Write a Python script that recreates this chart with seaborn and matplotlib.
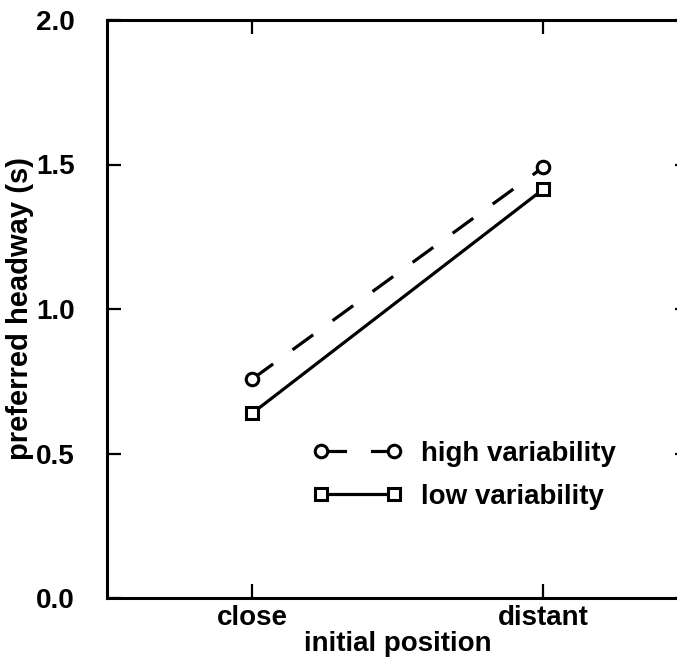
import matplotlib
matplotlib.use("Agg")
import matplotlib.pyplot as plt
import seaborn as sns
import pandas as pd

positions = ["close", "distant"]
high_variability = [0.758, 1.491]
low_variability = [0.640, 1.415]
series_labels = ["high variability", "low variability"]
y_ticks = [0.0, 0.5, 1.0, 1.5, 2.0]
y_tick_labels = ["0.0", "0.5", "1.0", "1.5", "2.0"]

sns.set_style("ticks")
plt.rcParams['font.family'] = ['Liberation Sans', 'DejaVu Sans']
plt.rcParams['font.weight'] = 'bold'
plt.rcParams['axes.labelweight'] = 'bold'
plt.rcParams['text.color'] = 'black'
plt.rcParams['axes.labelcolor'] = 'black'
plt.rcParams['axes.edgecolor'] = 'black'
plt.rcParams['xtick.color'] = 'black'
plt.rcParams['ytick.color'] = 'black'

df_high = pd.DataFrame({"position": positions, "headway": high_variability})
df_low = pd.DataFrame({"position": positions, "headway": low_variability})

fig = plt.figure(figsize=(6.77, 6.66), dpi=100)
ax = fig.add_axes([107/677, 68/666, 582/677, 578/666])

sns.lineplot(data=df_high, x="position", y="headway", ax=ax, color="black",
             linewidth=2.3, linestyle=(0, (8, 7.5)), marker="o", markersize=9,
             markerfacecolor="white", markeredgecolor="black", markeredgewidth=2.2,
             label=series_labels[0])
sns.lineplot(data=df_low, x="position", y="headway", ax=ax, color="black",
             linewidth=2.3, linestyle="-", marker="s", markersize=9,
             markerfacecolor="white", markeredgecolor="black", markeredgewidth=2.2,
             label=series_labels[1])

ax.set_xlim(-0.5, 1.5)
ax.set_ylim(0, 2.0)
ax.set_yticks(y_ticks)
ax.set_yticklabels(y_tick_labels)
ax.set_xticks([0, 1])
ax.set_xticklabels(positions)

for s in ax.spines.values():
    s.set_linewidth(2.2)
    s.set_visible(True)
    s.set_color('black')

ax.tick_params(axis='both', direction='in', length=10, width=1.6,
               top=True, right=True, labelsize=20, colors='black')
ax.tick_params(axis='y', pad=23)
ax.tick_params(axis='x', pad=5)

ax.set_xlabel("initial position", fontsize=20, fontweight='bold', labelpad=0)
ax.set_ylabel("preferred headway (s)", fontsize=21, fontweight='bold', labelpad=2)

handles, labels = ax.get_legend_handles_labels()
leg = ax.legend(handles, labels, loc='upper left', bbox_to_anchor=(313/677, 1-441/666),
                bbox_transform=fig.transFigure, frameon=False, fontsize=20,
                handlelength=3.2, handletextpad=0.7, labelspacing=0.6,
                borderpad=0, borderaxespad=0, numpoints=2)

fig.savefig("out.png", dpi=100)
